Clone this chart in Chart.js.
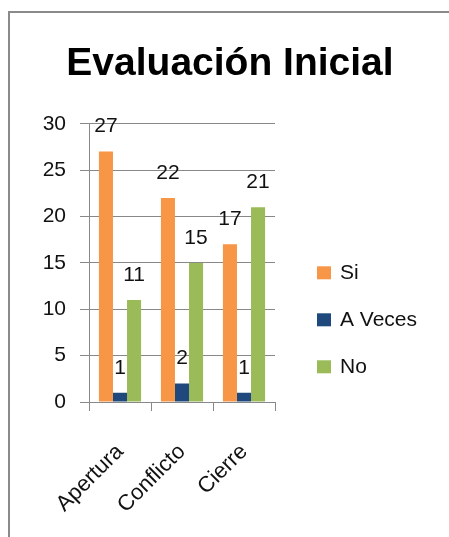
<!DOCTYPE html>
<html>
<head>
<meta charset="utf-8">
<script src="https://cdn.jsdelivr.net/npm/chart.js@4/dist/chart.umd.min.js"></script>
<style>
  html, body { margin: 0; padding: 0; background: #fff; overflow: hidden; width: 449px; height: 537px; }
  #wrap { position: absolute; left: 0; top: 0; width: 449px; height: 537px; overflow: hidden; }
  #c { position: absolute; left: 0; top: 0; }
</style>
</head>
<body>
<div id="wrap"><canvas id="c" width="460" height="537"></canvas></div>
<script>
const titleText = 'Evaluación Inicial';
const categories = ['Apertura', 'Conflicto', 'Cierre'];
const seriesNames = ['Si', 'A Veces', 'No'];
const siValues = [27, 22, 17];
const aVecesValues = [1, 2, 1];
const noValues = [11, 15, 21];
const yTicks = [0, 5, 10, 15, 20, 25, 30];
const seriesColors = ['#F79646', '#1F497D', '#9BBB59'];

const FONT = "'Liberation Sans', Arial, sans-serif";
const TEXT = '#111';
const GRID = '#888888';

const frameBorder = {
  id: 'frameBorder',
  beforeDraw(chart) {
    const ctx = chart.ctx;
    ctx.save();
    ctx.fillStyle = '#fff';
    ctx.fillRect(0, 0, chart.width, chart.height);
    ctx.strokeStyle = '#8a8a8a';
    ctx.lineWidth = 2;
    ctx.beginPath();
    ctx.moveTo(9, chart.height);
    ctx.lineTo(9, 12);
    ctx.lineTo(chart.width, 12);
    ctx.stroke();
    ctx.restore();
  }
};

const valueLabels = {
  id: 'valueLabels',
  afterDatasetsDraw(chart) {
    const ctx = chart.ctx;
    ctx.save();
    ctx.font = '21px ' + FONT;
    ctx.fillStyle = TEXT;
    ctx.textAlign = 'center';
    ctx.textBaseline = 'middle';
    chart.data.datasets.forEach((ds, i) => {
      chart.getDatasetMeta(i).data.forEach((bar, j) => {
        ctx.fillText(String(ds.data[j]), bar.x, bar.y - 25);
      });
    });
    ctx.restore();
  }
};

const sideLegend = {
  id: 'sideLegend',
  afterDraw(chart) {
    const ctx = chart.ctx;
    const area = chart.chartArea;
    ctx.save();
    ctx.font = '21px ' + FONT;
    ctx.textBaseline = 'middle';
    ctx.textAlign = 'left';
    const x0 = area.right + 42;
    const yStart = area.top + 149;
    const step = 47;
    chart.data.datasets.forEach((ds, i) => {
      const y = yStart + i * step;
      ctx.fillStyle = ds.backgroundColor;
      ctx.fillRect(x0, y - 6.5, 14, 13);
      ctx.fillStyle = TEXT;
      ctx.fillText(ds.label, x0 + 23, y);
    });
    ctx.restore();
  }
};

new Chart(document.getElementById('c'), {
  type: 'bar',
  data: {
    labels: categories,
    datasets: [
      { label: seriesNames[0], data: siValues, backgroundColor: seriesColors[0] },
      { label: seriesNames[1], data: aVecesValues, backgroundColor: seriesColors[1] },
      { label: seriesNames[2], data: noValues, backgroundColor: seriesColors[2] }
    ]
  },
  options: {
    responsive: false,
    animation: false,
    events: [],
    layout: { padding: 0 },
    datasets: { bar: { barPercentage: 1, categoryPercentage: 0.68 } },
    plugins: {
      legend: { display: false },
      tooltip: { enabled: false },
      title: {
        display: true,
        text: titleText,
        color: '#000',
        font: { family: FONT, size: 39, weight: 'bold', lineHeight: 1.2 },
        padding: { top: 41, bottom: 36 }
      }
    },
    scales: {
      x: {
        grid: { display: true, offset: true, drawOnChartArea: false, drawTicks: true, tickLength: 9, color: GRID, lineWidth: 1 },
        border: { display: true, color: GRID, width: 1 },
        ticks: { color: TEXT, font: { family: FONT, size: 22 }, maxRotation: 45, minRotation: 45, padding: 28, autoSkip: false },
        afterFit(scale) { scale.height = 135; }
      },
      y: {
        min: 0, max: 30,
        afterBuildTicks(scale) { scale.ticks = yTicks.map(v => ({ value: v })); },
        grid: { color: GRID, lineWidth: 1, tickLength: 9, drawTicks: true },
        border: { display: true, color: GRID, width: 1 },
        ticks: { color: TEXT, font: { family: FONT, size: 21 }, padding: 14 },
        afterFit(scale) { scale.width = 89; }
      },
      side: {
        position: 'right',
        display: true,
        grid: { display: false, drawTicks: false },
        border: { display: false },
        ticks: { display: false },
        afterFit(scale) { scale.width = 185; }
      }
    }
  },
  plugins: [frameBorder, valueLabels, sideLegend]
});
</script>
</body>
</html>
